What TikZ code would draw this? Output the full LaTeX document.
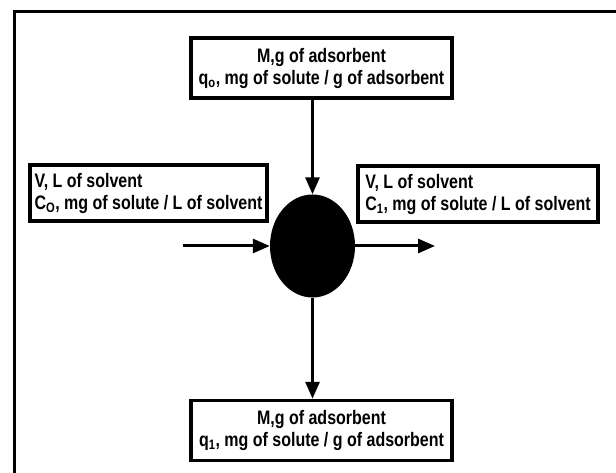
\documentclass[tikz,border=0pt]{standalone}
\usepackage{fontspec}
\setmainfont{Liberation Sans}
\usetikzlibrary{arrows.meta,shapes.geometric}
\newcommand{\tl}[1]{\scalebox{1}[1.22]{#1}}
\begin{document}
\begin{tikzpicture}[x=1pt,y=-1pt,
  font=\bfseries\fontsize{16}{22}\selectfont,
  box/.style={draw, line width=3.5pt, inner xsep=2pt, inner ysep=0pt},
  cbox/.style={box, align=center, minimum width=261, minimum height=60},
  sbox/.style={box, align=left, minimum height=56},
  flow/.style={line width=3pt, -{Triangle[length=17pt,width=14pt]}}]
\useasboundingbox (0,0) rectangle (616,473);
\draw[line width=3pt] (14,473) -- (14,12) -- (616,12);
\node[cbox] (top) at (321.5,68) {\tl{M,g of adsorbent}\\\tl{q\textsubscript{o}, mg of solute / g of adsorbent}};
\node[cbox] (bot) at (321.5,430.5) {\tl{M,g of adsorbent}\\\tl{q\textsubscript{1}, mg of solute / g of adsorbent}};
\node[sbox, minimum width=237] (left) at (148.5,193) {\tl{V, L of solvent}\\\tl{C\textsubscript{O}, mg of solute / L of solvent}};
\node[sbox, minimum width=240] (right) at (478,194) {\tl{V, L of solvent}\\\tl{C\textsubscript{1}, mg of solute / L of solvent}};
\node[ellipse, fill=black, minimum width=85, minimum height=103, inner sep=0pt] (reactor) at (312.5,246) {};
\coordinate (lin) at (183,246);
\coordinate (rout) at (435,246);
\draw[flow] (reactor.north |- top.south) -- (reactor.north);
\draw[flow] (lin) -- (reactor.west);
\draw[flow] (reactor.east) -- (rout);
\draw[flow] (reactor.south) -- (reactor.south |- bot.north);
\end{tikzpicture}
\end{document}
